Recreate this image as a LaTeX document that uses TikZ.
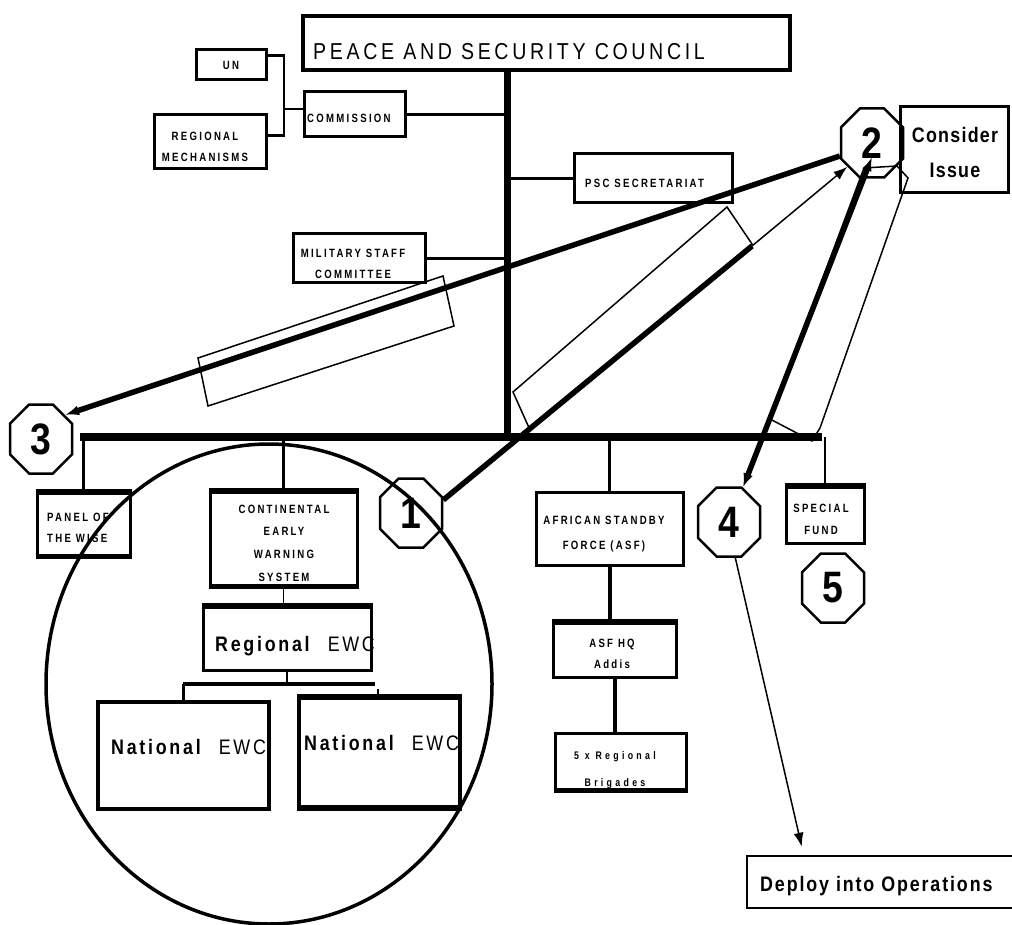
\documentclass[tikz,border=0pt]{standalone}
\usepackage{fontspec}
\setmainfont{Liberation Sans}
\newfontfamily\fsmall[FakeStretch=0.8,LetterSpace=19]{Liberation Sans}
\newfontfamily\fwide[FakeStretch=0.8,LetterSpace=30]{Liberation Sans}
\newfontfamily\ftitle[FakeStretch=0.85,LetterSpace=16]{Liberation Sans}
\newfontfamily\fmid[FakeStretch=0.85,LetterSpace=13]{Liberation Sans}
\newfontfamily\fcon[FakeStretch=0.85,LetterSpace=6]{Liberation Sans}
\newfontfamily\fdep[FakeStretch=0.85,LetterSpace=9]{Liberation Sans}
\newfontfamily\fnum[FakeStretch=0.85]{Liberation Sans}
\usetikzlibrary{shapes.geometric,shapes.misc,calc,arrows.meta}
\begin{document}
\begin{tikzpicture}[x=1pt,y=-1pt,
  box/.style={draw, line width=3pt, inner sep=0pt},
  lab/.style={inner sep=0pt, align=center},
  sm/.style={lab, font=\fsmall\bfseries\fontsize{12}{21}\selectfont},
  conn/.style={line width=2.5pt},
  heavy/.style={line width=8pt},
  edge5/.style={line width=5pt},
  oct/.style={draw, chamfered rectangle, chamfered rectangle xsep=18pt, minimum width=62pt, minimum height=69pt, inner sep=0pt, line width=2.5pt, font=\fnum\bfseries\fontsize{44}{44}\selectfont},
  flow/.style={line width=5.5pt},
  fine/.style={line width=1.5pt},
  tip/.style={-{Latex[length=14pt,width=10pt]}},
  tips/.style={{Latex[length=14pt,width=10pt]}-{Latex[length=14pt,width=10pt]}}
]
\fill[white] (0,0) rectangle (1012,925);
\useasboundingbox (0,0) rectangle (1012,925);

% ---------- texts ----------
\node[lab, anchor=base west, font=\ftitle\fontsize{23}{23}\selectfont] (psc-t) at (313,60) {PEACE AND SECURITY COUNCIL};
\node[sm] (un-t) at (231,65) {UN};
\node[sm, anchor=north] (rm-t) at (205,131.7) {REGIONAL\\MECHANISMS};
\node[sm, anchor=base west] (comm-t) at (307,122.8) {COMMISSION};
\node[sm, anchor=base west] (sec-t) at (585,187.3) {PSC SECRETARIAT};
\node[sm, anchor=north] (mil-t) at (353,248.7) {MILITARY STAFF\\COMMITTEE};
\node[lab, anchor=north, font=\fcon\bfseries\fontsize{21}{35}\selectfont] (con-t) at (955,127) {Consider\\Issue};
\node[sm, anchor=north west, align=left] (panel-t) at (47,512.7) {PANEL OF\\THE WISE};
\node[lab, anchor=north, font=\fsmall\bfseries\fontsize{12}{22.7}\selectfont] (ews-t) at (284,504.7) {CONTINENTAL\\EARLY\\WARNING\\SYSTEM};
\node[lab, anchor=north, font=\fsmall\bfseries\fontsize{12}{25}\selectfont] (asf-t) at (604,515.7) {AFRICAN STANDBY\\FORCE (ASF)};
\node[lab, anchor=north, font=\fsmall\bfseries\fontsize{12}{22}\selectfont] (sf-t) at (821,503.7) {SPECIAL\\FUND};
\node[sm, anchor=north] (hq-t) at (612,638.7) {ASF HQ\\Addis};
\node[lab, anchor=north, font=\fwide\bfseries\fontsize{11}{27}\selectfont] (brig-t) at (615,751) {5 x Regional\\Brigades};
\node[lab, anchor=base west, font=\fmid\fontsize{21}{21}\selectfont] (reg-t) at (215,651) {\textbf{Regional}\ \ EWC};
\node[lab, anchor=base west, font=\fmid\fontsize{21}{21}\selectfont] (natl-t) at (111,754) {\textbf{National}\ \ EWC};
\node[lab, anchor=base west, font=\fmid\fontsize{21}{21}\selectfont] (natr-t) at (304,750) {\textbf{National}\ \ EWC};
\node[lab, anchor=base west, font=\fdep\bfseries\fontsize{21}{21}\selectfont] (dep-t) at (760,891) {Deploy into Operations};

% ---------- boxes ----------
\node[box, line width=3.5pt, minimum width=487pt, minimum height=54pt] (psc) at (546.5,43) {};
\node[box, minimum width=70pt, minimum height=30pt] (un) at (231,65) {};
\node[box, minimum width=112pt, minimum height=54pt] (rm) at (210,142) {};
\node[box, minimum width=101pt, minimum height=45pt] (comm) at (354.5,114.5) {};
\node[box, minimum width=158pt, minimum height=49pt] (sec) at (653,178.5) {};
\node[box, minimum width=132pt, minimum height=49pt] (mil) at (359,258.5) {};
\node[box, minimum width=108pt, minimum height=86pt] (con) at (954,150) {};
\node[box, minimum width=93pt, minimum height=62pt] (panel) at (83.5,524) {};
\node[box, minimum width=147pt, minimum height=93pt] (ews) at (283.5,538.5) {};
\node[box, minimum width=147pt, minimum height=73pt] (asf) at (609.5,528.5) {};
\node[box, minimum width=78pt, minimum height=56pt] (sf) at (825,515) {};
\node[box, minimum width=123pt, minimum height=54pt] (hq) at (614.5,650) {};
\node[box, minimum width=131pt, minimum height=56pt] (brig) at (620.5,761) {};
\node[box, minimum width=168pt, minimum height=63pt] (reg) at (287,638.5) {};
\node[box, line width=3.5pt, minimum width=171pt, minimum height=107pt] (natl) at (183.5,755.5) {};
\node[box, line width=3.5pt, minimum width=161pt, minimum height=109pt] (natr) at (379.5,752.5) {};
\node[box, line width=2.5pt, minimum width=268pt, minimum height=52pt] (dep) at (881,882) {};

% heavier edges
\draw[edge5] (ews.north west) -- (ews.north east);
\draw[edge5] (ews.south west) -- (ews.south east);
\draw[edge5] (panel.north west) -- (panel.north east);
\draw[edge5] (panel.south west) -- (panel.south east);
\draw[edge5] (sf.north west) -- (sf.north east);
\draw[edge5] (hq.north west) -- (hq.north east);
\draw[edge5] (brig.south west) -- (brig.south east);
\draw[edge5] (reg.north west) -- (reg.north east);
\draw[edge5] (natr.north west) -- (natr.north east);
\draw[edge5] (natr.south west) -- (natr.south east);

% ---------- octagons ----------
\node[oct] (o1) at (411,513) {1};
\node[oct] (o2) at (872,143) {2};
\node[oct] (o3) at (41,439) {3};
\node[oct] (o4) at (729,522) {4};
\node[oct] (o5) at (833,588) {5};

% ---------- structure connectors ----------
\coordinate (vtop) at (507,70);
\coordinate (vbot) at (507,437);
\coordinate (busl) at (80,437);
\coordinate (busr) at (822,437);
\coordinate (jn) at (284,109);
\draw[line width=7pt] (vtop) -- (vbot);
\draw[heavy] (busl) -- (busr);
\draw[conn] ($(un.north east)+(0,7)$) -| (jn) |- ($(rm.north east)+(0,22)$);
\draw[conn] (jn) -- (jn -| comm.west);
\draw[conn] (comm.east) -- (comm.east -| vtop);
\draw[conn] (sec.west) -- (sec.west -| vtop);
\draw[conn] (mil.east) -- (mil.east -| vtop);
\draw[conn] (panel.north) -- (panel.north |- busl);
\draw[line width=3pt] (ews.north) -- (ews.north |- busl);
\draw[conn] (asf.north) -- (asf.north |- busl);
\draw[conn] (sf.north) -- (sf.north |- busl);
\draw[line width=4pt] (asf.south) -- (asf.south |- hq.north);
\draw[line width=4pt] (hq.south) -- (hq.south |- brig.north);
\draw[fine] (ews.south) -- (ews.south |- reg.north);
\coordinate (brl) at (183,684);
\coordinate (brr) at (375,684);
\draw[fine] (reg.south) -- (reg.south |- brl);
\draw[line width=4pt] (brl) -- (brr);
\draw[line width=3pt] (brl) -- (brl |- natl.north);
\draw[fine] ($(brr)+(3,5)$) -- ++(0,6);

% ---------- tilted frames ----------
\draw[fine] (198,358) -- (443,276) -- (454,326) -- (208,406) -- cycle;
\draw[fine] (513,392) -- (727,207) -- (752,244) -- (530,430) -- cycle;
\draw[fine] (770,419) -- (864,168) -- (897,166) -- (908,178) -- (820,428) -- (812,441) -- cycle;

% ---------- flow arrows ----------
\coordinate (k12) at (752,246);
\draw[flow, tip] (o2.202) -- (o3.45);
\draw[flow] (o1.22) -- (k12);
\draw[fine, tip] (k12) -- (o2.224);
\draw[flow, tips] ([yshift=-14pt]o2.center) -- (o4.68);
\draw[fine, tip] (o4.-80) -- ($(dep.north west)+(56,-8)$);

% ---------- circle ----------
\draw[line width=3.5pt] (269,684) ellipse [x radius=223pt, y radius=240pt];
\end{tikzpicture}
\end{document}
